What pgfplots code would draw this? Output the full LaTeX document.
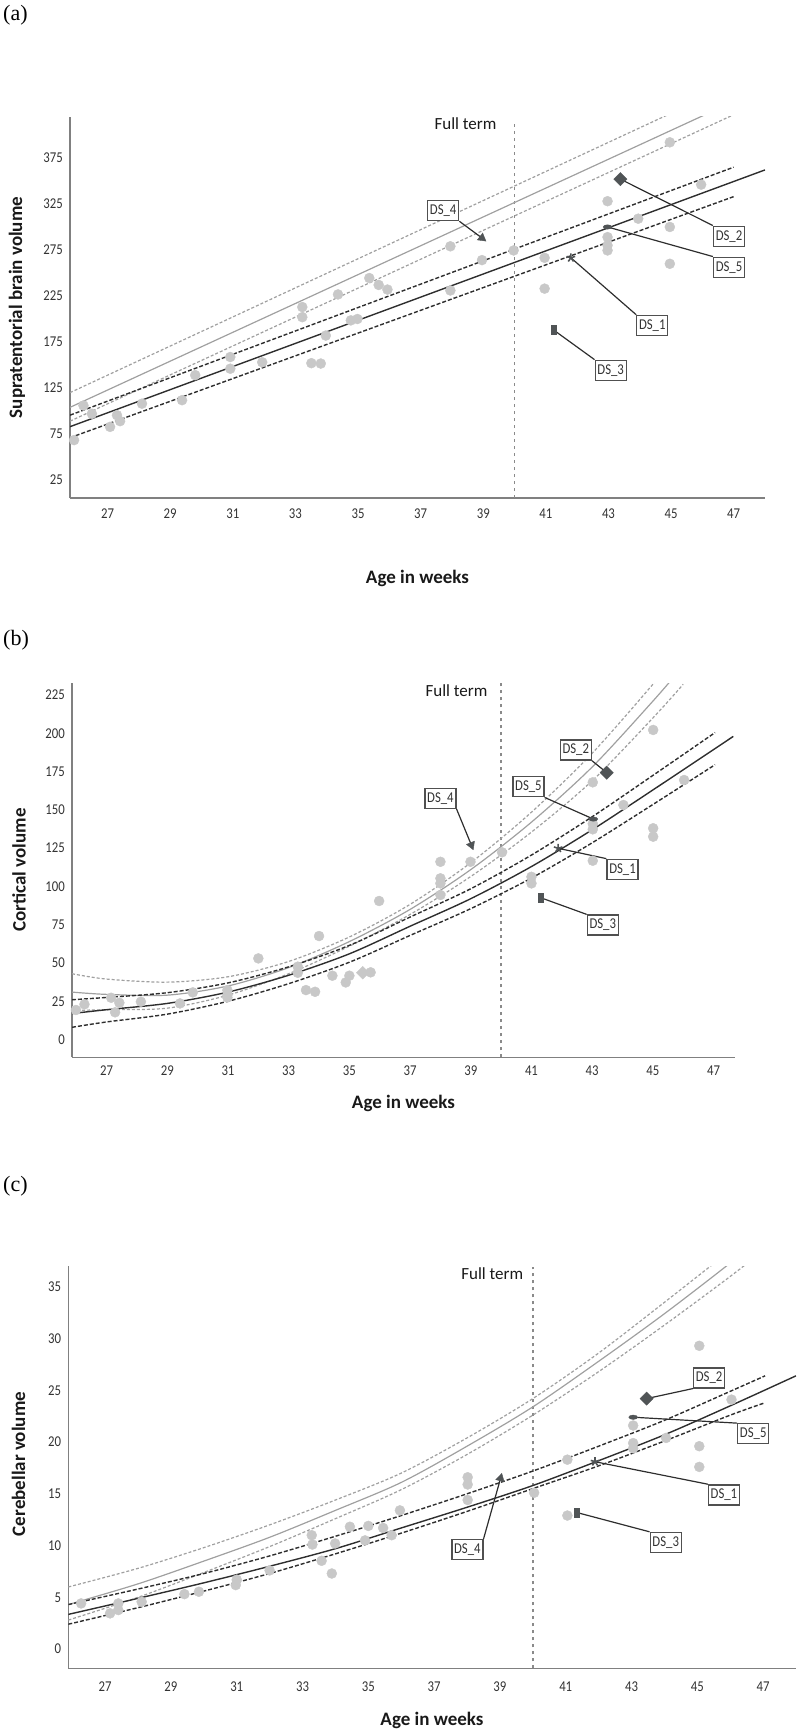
\documentclass[border=0pt]{standalone}
\usepackage{fontspec}
\setmainfont{Carlito}
\newfontfamily\condfont[FakeStretch=0.85]{Carlito}
\newfontfamily\seriffont{Liberation Serif}
\usepackage{pgfplots}
\pgfplotsset{compat=1.18}
\definecolor{dotgrey}{HTML}{C8C8C8}
\definecolor{greyline}{HTML}{A0A0A0}
\definecolor{blackline}{HTML}{2E2E2E}
\definecolor{axisgrey}{HTML}{808080}
\definecolor{ftgrey}{HTML}{8A8A8A}
\definecolor{dsdark}{HTML}{505456}
\definecolor{boxgrey}{HTML}{505050}
\definecolor{tickcol}{HTML}{333333}
\newcommand\tickfont{\condfont\fontsize{15}{15}\selectfont}
\pgfplotsset{
 panel/.style={scale only axis, anchor=south west,
   axis x line=bottom, axis y line=left,
   axis line style={-, draw=axisgrey, line width=1.6pt},
   major tick length=0pt, xtick={27,29,...,47},
   /pgf/number format/assume math mode=true,
   ticklabel style={font=\tickfont, text=tickcol},
   yticklabel style={anchor=east, inner sep=0pt, xshift=-7pt},
   clip=true},
 dots/.style={only marks, mark=*, mark size=5pt, color=dotgrey},
 blk/.style={no marks, draw=blackline, line width=1.4pt},
 blkd/.style={blk, dash pattern=on 4pt off 2pt},
 gry/.style={no marks, draw=greyline, line width=1.2pt},
 gryd/.style={gry, dash pattern=on 3pt off 2pt},
 fterm/.style={no marks, draw=ftgrey, line width=1.5pt, dash pattern=on 3pt off 4pt},
 ds/.style={only marks, color=dsdark},
}
\tikzset{dsbox/.style={draw=boxgrey, line width=1.3pt, fill=white, font=\tickfont, text=tickcol, minimum width=31pt, minimum height=20pt, inner sep=1pt},
 conn/.style={draw=blackline, line width=1.2pt},
 ttl/.style={font=\bfseries\fontsize{19}{19}\selectfont, text=black!90},
 ft/.style={font=\fontsize{17}{17}\selectfont, text=black!90, anchor=east},
 plab/.style={font=\seriffont\fontsize{22}{22}\selectfont, anchor=west, inner sep=0pt}}
\begin{document}
\begin{tikzpicture}
\useasboundingbox (0pt,0pt) rectangle (798pt,-1731pt);
% ---------------- (a) ----------------
\begin{axis}[panel, at={(70pt,-498pt)}, width=695pt, height=381pt,
  xmin=25.8, xmax=48, ymin=5.5, ymax=419.5, ytick={25,75,...,375},
  xticklabel style={anchor=center, yshift=-16pt}]
\addplot[dots] coordinates {(25.93,68.4) (26.23,106) (26.5,97) (27.08,82.8) (27.3,95.5) (27.4,89) (28.1,108) (29.38,111.8) (29.8,139) (30.92,158.7) (30.92,146) (31.94,153) (33.22,213) (33.22,202) (33.51,152) (33.81,151.6) (33.97,182) (34.36,226.7) (34.77,198.5) (34.98,200) (35.36,244.5) (35.66,237) (35.94,232) (37.95,279) (37.95,231) (38.96,264) (39.97,274.5) (40.96,266.5) (40.96,233) (42.97,328) (42.97,289) (42.97,280) (42.97,274.5) (43.95,309) (44.96,392) (44.96,300) (44.96,260) (45.96,346)};
\addplot[fterm] coordinates {(40,5.5) (40,412)};
\addplot[gryd] coordinates {(25.8,120) (48,471)};
\addplot[gry] coordinates {(25.8,104) (48,452)};
\addplot[gryd] coordinates {(25.8,89) (47,422)};
\addplot[blkd] coordinates {(25.8,95.5) (47,365)};
\addplot[blk] coordinates {(25.8,83) (48,362)};
\addplot[blkd] coordinates {(25.8,71) (47,333)};
\node[dsbox] (a4) at (axis cs:37.72,317.8) {DS\_4};
\node[dsbox] (a2) at (axis cs:46.85,290) {DS\_2};
\node[dsbox] (a5) at (axis cs:46.85,256.3) {DS\_5};
\node[dsbox] (a1) at (axis cs:44.4,193.1) {DS\_1};
\node[dsbox] (a3) at (axis cs:43.07,144.3) {DS\_3};
\draw[conn] (a4.south east) -- (axis cs:38.96,288);
\draw[conn] (axis cs:43.38,352) -- (a2.north west);
\draw[conn] (axis cs:42.97,300) -- (a5.north west);
\draw[conn] (axis cs:41.8,266.5) -- (a1.north west);
\draw[conn] (axis cs:41.25,188) -- (a3.north west);
\addplot[ds, mark=square*, mark size=4.7pt, mark options={rotate=45}] coordinates {(43.38,352)};
\addplot[ds, mark=*, mark size=2.2pt, mark options={xscale=2}] coordinates {(42.97,300)};
\addplot[ds, mark=star, mark size=4.5pt, mark options={line width=1.6pt}] coordinates {(41.8,266.5)};
\addplot[ds, mark=square*, mark size=4.6pt, mark options={xscale=0.55}] coordinates {(41.25,188)};
\addplot[ds, mark=triangle*, mark size=5pt, mark options={rotate=-128}] coordinates {(38.96,288)};
\end{axis}
\node[plab] at (3pt,-15pt) {(a)};
\node[ttl, rotate=90] at (17pt,-307.5pt) {Supratentorial brain volume};
\node[ttl] at (417.5pt,-578pt) {Age in weeks};
\node[ft] at (500pt,-124pt) {Full term};
% ---------------- (b) ----------------
\begin{axis}[panel, at={(72pt,-1057.3pt)}, width=662.8pt, height=374.2pt,
  xmin=25.86, xmax=47.7, ymin=-11.6, ymax=232.8, ytick={0,25,...,225},
  xticklabel style={anchor=center, yshift=-13pt}]
\addplot[dots] coordinates {(25.99,19.3) (26.27,23.0) (27.15,27.3) (27.28,17.8) (27.42,24.0) (28.13,24.7) (29.42,23.6) (29.84,30.8) (30.98,32.3) (30.98,29.1) (30.98,27.5) (32.0,53.0) (33.3,47.6) (33.3,43.6) (33.57,32.3) (33.87,31.2) (34.0,67.6) (34.44,41.7) (34.88,37.3) (35.0,41.7) (35.7,43.9) (35.98,90.5) (38.0,116.1) (38.0,105.3) (38.0,102) (38.0,94.4) (38.99,116.1) (40.03,122.3) (41.0,106.3) (41.0,102) (43.02,168) (43.02,141) (43.02,137.3) (43.02,116.8) (44.03,153.2) (45.01,202.2) (45.01,138) (45.01,132.5) (46.03,169.5)};
\addplot[only marks, mark=square*, mark size=4.5pt, mark options={rotate=45}, color=dotgrey] coordinates {(35.44,43.6)};
\addplot[fterm] coordinates {(40,-11.6) (40,232.8)};
\addplot[gryd, smooth] coordinates {(25.86,43.0) (27,39.5) (29,37.5) (31,41) (33,51) (35,67) (37,88.3) (39,115.5) (41,148.5) (43,187) (45,232) (46,256)};
\addplot[gry, smooth] coordinates {(25.86,31) (27,29.5) (29,29) (31,35) (33,47) (35,64) (37,85) (39,111) (41,142) (43,178) (45,221) (46,244)};
\addplot[gryd, smooth] coordinates {(25.86,19) (27,19.5) (29,20.5) (31,29) (33,43) (35,61) (37,81.7) (39,106.5) (41,135.5) (43,169) (45,210) (46,232)};
\addplot[blkd, smooth] coordinates {(25.86,26) (27,27.5) (29,30.6) (31,37) (33,47.5) (35,61.5) (37,80) (39,98.5) (41,120.5) (43,145.5) (45,172.5) (47.05,200.5)};
\addplot[blk, smooth] coordinates {(25.86,17) (27,19.5) (29,23.6) (31,31) (33,42) (35,56) (37,74) (39,92) (41,113) (43,137) (45,163) (47.65,198)};
\addplot[blkd, smooth] coordinates {(25.86,8) (27,11.5) (29,16.6) (31,25) (33,36.5) (35,50.5) (37,68) (39,85.5) (41,105.5) (43,128.5) (45,153.5) (47.05,179.5)};
\node[dsbox] (b2) at (axis cs:42.46,189.1) {DS\_2};
\node[dsbox] (b5) at (axis cs:40.9,165.1) {DS\_5};
\node[dsbox] (b4) at (axis cs:38.0,157.5) {DS\_4};
\node[dsbox] (b1) at (axis cs:44.0,111.2) {DS\_1};
\node[dsbox] (b3) at (axis cs:43.35,74.8) {DS\_3};
\draw[conn] (b2.south east) -- (axis cs:43.48,174.3);
\draw[conn] (b5.south east) -- (axis cs:43.04,144);
\draw[conn] (b4.south east) -- (axis cs:39.02,127);
\draw[conn] (axis cs:41.88,124.9) -- (b1.north west);
\draw[conn] (axis cs:41.31,92.6) -- (b3.north west);
\addplot[ds, mark=square*, mark size=4.7pt, mark options={rotate=45}] coordinates {(43.48,174.3)};
\addplot[ds, mark=*, mark size=2.2pt, mark options={xscale=2}] coordinates {(43.04,144)};
\addplot[ds, mark=star, mark size=4.5pt, mark options={line width=1.6pt}] coordinates {(41.88,124.9)};
\addplot[ds, mark=square*, mark size=4.6pt, mark options={xscale=0.55}] coordinates {(41.31,92.6)};
\addplot[ds, mark=triangle*, mark size=5pt, mark options={rotate=-158}] coordinates {(39.02,127)};
\end{axis}
\node[plab] at (3pt,-640pt) {(b)};
\node[ttl, rotate=90] at (19pt,-870pt) {Cortical volume};
\node[ttl] at (403.5pt,-1103pt) {Age in weeks};
\node[ft] at (491pt,-691pt) {Full term};
% ---------------- (c) ----------------
\begin{axis}[panel, at={(68.3pt,-1668.3pt)}, width=727.7pt, height=402.2pt,
  xmin=25.88, xmax=48, ymin=-1.86, ymax=37.0, ytick={0,5,...,35},
  xticklabel style={anchor=center, yshift=-18pt}]
\addplot[dots] coordinates {(26.27,4.41) (27.15,3.45) (27.4,4.41) (27.4,3.77) (28.11,4.57) (29.41,5.31) (29.85,5.54) (30.97,6.18) (31.0,6.7) (32.0,7.6) (33.28,11.0) (33.3,10.1) (33.58,8.53) (33.89,7.3) (33.99,10.2) (34.44,11.82) (34.9,10.5) (35.0,11.9) (35.45,11.7) (35.71,11.0) (35.96,13.4) (38.02,16.6) (38.02,15.9) (38.02,14.4) (40.04,15.1) (41.05,18.3) (41.05,12.9) (43.05,21.6) (43.05,19.9) (43.05,19.4) (44.05,20.4) (45.06,29.3) (45.06,19.6) (45.06,17.6) (46.04,24.1)};
\addplot[fterm] coordinates {(40,-1.86) (40,36.9)};
\addplot[gryd, smooth] coordinates {(25.88,6.0) (28,7.8) (30,9.8) (32,12.0) (34,14.4) (36,17.0) (38,20.4) (40,24.2) (42,28.6) (44,33.5) (46,38.5)};
\addplot[gry, smooth] coordinates {(25.88,4.3) (28,6.3) (30,8.5) (32,10.8) (34,13.4) (36,16.1) (38,19.6) (40,23.4) (42,27.8) (44,32.4) (46,37.3) (47,40)};
\addplot[gryd, smooth] coordinates {(25.88,2.8) (28,5.0) (30,7.4) (32,9.9) (34,12.6) (36,15.4) (38,18.8) (40,22.6) (42,26.8) (44,31.3) (46,36.0) (47,38.5)};
\addplot[blkd, smooth] coordinates {(25.88,4.3) (28,5.8) (30,7.3) (32,9.0) (34,10.9) (36,12.9) (38,15.0) (40,17.2) (42,19.6) (44,22.1) (46,24.9) (47.06,26.4)};
\addplot[blk, smooth] coordinates {(25.88,3.35) (28,4.9) (30,6.4) (32,8.0) (34,9.7) (36,11.7) (38,13.7) (40,15.8) (42,18.2) (44,20.7) (46,23.5) (48,26.4)};
\addplot[blkd, smooth] coordinates {(25.88,2.4) (28,4.0) (30,5.6) (32,7.3) (34,9.2) (36,11.2) (38,13.3) (40,15.5) (42,17.7) (44,20.1) (46,22.6) (47.06,23.8)};
\node[dsbox] (c2) at (axis cs:45.36,26.2) {DS\_2};
\node[dsbox] (c5) at (axis cs:46.7,20.8) {DS\_5};
\node[dsbox] (c1) at (axis cs:45.81,14.9) {DS\_1};
\node[dsbox] (c3) at (axis cs:44.04,10.3) {DS\_3};
\node[dsbox] (c4) at (axis cs:38.01,9.6) {DS\_4};
\draw[conn] (axis cs:43.46,24.2) -- (c2.south west);
\draw[conn] (axis cs:43.05,22.4) -- (c5.north west);
\draw[conn] (axis cs:41.89,18.1) -- (c1.north west);
\draw[conn] (axis cs:41.33,13.2) -- (c3.north west);
\draw[conn] (c4.north east) -- (axis cs:39.02,16.5);
\addplot[ds, mark=square*, mark size=4.7pt, mark options={rotate=45}] coordinates {(43.46,24.2)};
\addplot[ds, mark=*, mark size=2.2pt, mark options={xscale=2}] coordinates {(43.05,22.4)};
\addplot[ds, mark=star, mark size=4.5pt, mark options={line width=1.6pt}] coordinates {(41.89,18.1)};
\addplot[ds, mark=square*, mark size=4.6pt, mark options={xscale=0.55}] coordinates {(41.33,13.2)};
\addplot[ds, mark=triangle*, mark size=5pt, mark options={rotate=-14}] coordinates {(39.02,16.5)};
\end{axis}
\node[plab] at (3pt,-1186pt) {(c)};
\node[ttl, rotate=90] at (18.5pt,-1464pt) {Cerebellar volume};
\node[ttl] at (432pt,-1720pt) {Age in weeks};
\node[ft] at (526.7pt,-1274pt) {Full term};
\end{tikzpicture}
\end{document}
